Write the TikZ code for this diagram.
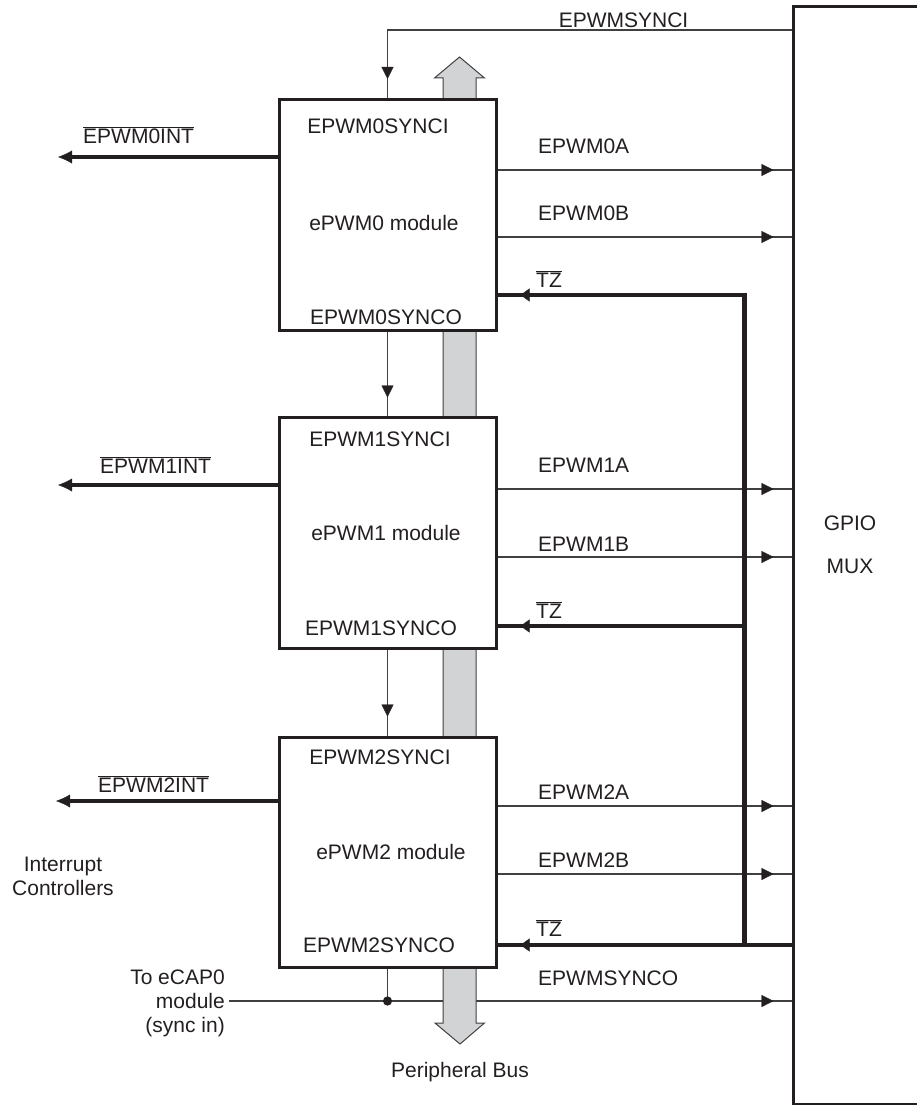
\documentclass[tikz,border=0pt]{standalone}
\usepackage{fontspec}
\setmainfont{Liberation Sans}
\usetikzlibrary{arrows.meta,decorations.markings}
\definecolor{ink}{HTML}{231F20}
\definecolor{thinc}{HTML}{404042}
\definecolor{busfill}{HTML}{D1D3D4}
\begin{document}
\begin{tikzpicture}[x=1pt,y=-1pt,
  every node/.style={font=\fontsize{21}{24}\selectfont, text=ink, inner sep=0pt},
  modbox/.style={draw=ink, line width=3pt, fill=white, minimum width=217pt, minimum height=231pt},
  gpiobox/.style={draw=ink, line width=3pt, minimum width=140pt, minimum height=1097pt},
  thinline/.style={draw=thinc, line width=1.2pt},
  thickline/.style={draw=ink, line width=4.5pt},
  tipbefore/.style={postaction={decorate}, decoration={markings, mark=at position -#1 with {\arrow[ink]{Triangle[length=12pt,width=12pt,line width=0.3pt]}}}},
  tzbefore/.style={postaction={decorate}, decoration={markings, mark=at position -#1 with {\arrow{Triangle[length=9pt,width=13pt,line width=0.3pt]}}}},
  inttip/.style={-{Latex[length=14pt,width=13pt,line width=0.3pt]}},
  outlbl/.style={anchor=west},
  olbl/.style={anchor=base west}
]
\useasboundingbox (0,0) rectangle (917,1105);
\clip (0,0) rectangle (917,1105);

% GPIO MUX block
\node[gpiobox] (gpio) at (863,555.5) {};
\node (gpiot) at (850,523) {GPIO};
\node (muxt) at (850,566) {MUX};

% sync out line (under the bus)
\coordinate (dot) at (387.5,1001);
\coordinate (so) at (229,1001);
\draw[thinline, tipbefore=18pt] (so) -- (gpio.west |- so);

% peripheral bus
\filldraw[fill=busfill, draw=thinc, line width=1pt]
  (459.5,57) -- (484.5,78) -- (476,78) -- (476,1023) -- (484.5,1023) -- (460,1044)
  -- (435,1023) -- (443,1023) -- (443,78) -- (434.5,78) -- cycle;

% modules
\node[modbox] (m0) at (387.5,215) {};
\node[modbox] (m1) at (387.5,532.5) {};
\node[modbox, minimum height=230pt] (m2) at (387.5,852) {};

\node (m0si) at (378,126) {EPWM0SYNCI};
\node (m0t)  at (384,223) {ePWM0 module};
\node (m0so) at (386,317) {EPWM0SYNCO};
\node (m1si) at (380,439) {EPWM1SYNCI};
\node (m1t)  at (386,533) {ePWM1 module};
\node (m1so) at (381,628) {EPWM1SYNCO};
\node (m2si) at (380,757) {EPWM2SYNCI};
\node (m2t)  at (391,852) {ePWM2 module};
\node (m2so) at (379,945) {EPWM2SYNCO};

% sync chain
\coordinate (si) at (0,30);
\draw[thinline, tipbefore=19pt] (gpio.west |- si) -| (m0.north);
\node (silbl) at (623.5,20) {EPWMSYNCI};
\draw[thinline, tipbefore=18pt] (m0.south) -- (m1.north);
\draw[thinline, tipbefore=19pt] (m1.south) -- (m2.north);
\draw[thinline] (m2.south) -- (dot);
\fill[ink] (dot) circle (4.6pt);
\node (solbl) at (538,978) [outlbl] {EPWMSYNCO};
\node (ecap) at (225,969.5) [anchor=north east, align=right] {To eCAP0\\module\\(sync in)};

% PWM outputs
\coordinate (a0) at (0,170);
\coordinate (b0) at (0,237);
\coordinate (a1) at (0,489);
\coordinate (b1) at (0,557);
\coordinate (a2) at (0,806);
\coordinate (b2) at (0,874);
\draw[thinline, tipbefore=18pt] (m0.east |- a0) -- (gpio.west |- a0);
\draw[thinline, tipbefore=18pt] (m0.east |- b0) -- (gpio.west |- b0);
\draw[thinline, tipbefore=18pt] (m1.east |- a1) -- (gpio.west |- a1);
\draw[thinline, tipbefore=18pt] (m1.east |- b1) -- (gpio.west |- b1);
\draw[thinline, tipbefore=18pt] (m2.east |- a2) -- (gpio.west |- a2);
\draw[thinline, tipbefore=18pt] (m2.east |- b2) -- (gpio.west |- b2);
\node (a0l) at (538,146) [outlbl] {EPWM0A};
\node (b0l) at (538,213) [outlbl] {EPWM0B};
\node (a1l) at (538,465) [outlbl] {EPWM1A};
\node (b1l) at (538,544) [outlbl] {EPWM1B};
\node (a2l) at (538,792) [outlbl] {EPWM2A};
\node (b2l) at (538,860) [outlbl] {EPWM2B};

% trip zone
\coordinate (tz0) at (744.5,295);
\coordinate (tz1) at (744.5,626);
\coordinate (tz2) at (744.5,945);
\draw[thickline, tzbefore=23pt] (tz2) -- (tz0) -- (m0.east |- tz0);
\draw[thickline, tzbefore=23pt] (tz1) -- (m1.east |- tz1);
\draw[thickline, tzbefore=23pt] (gpio.west |- tz2) -- (m2.east |- tz2);
\node (tz0l) at (536,287) [olbl] {$\overline{\mbox{TZ}}$};
\node (tz1l) at (536,618) [olbl] {$\overline{\mbox{TZ}}$};
\node (tz2l) at (536,936) [olbl] {$\overline{\mbox{TZ}}$};

% interrupts
\coordinate (i0) at (58,157);
\coordinate (i1) at (58,485);
\coordinate (i2) at (56,801);
\draw[thickline, inttip] (m0.west |- i0) -- (i0);
\draw[thickline, inttip] (m1.west |- i1) -- (i1);
\draw[thickline, inttip] (m2.west |- i2) -- (i2);
\node (i0l) at (83,143) [olbl] {$\overline{\mbox{EPWM0INT}}$};
\node (i1l) at (100,473.5) [olbl] {$\overline{\mbox{EPWM1INT}}$};
\node (i2l) at (98,792) [olbl] {$\overline{\mbox{EPWM2INT}}$};
\node (ictl) at (63,856.5) [anchor=north, align=center] {Interrupt\\Controllers};

\node (pbus) at (460,1072) {Peripheral Bus};
\end{tikzpicture}
\end{document}
